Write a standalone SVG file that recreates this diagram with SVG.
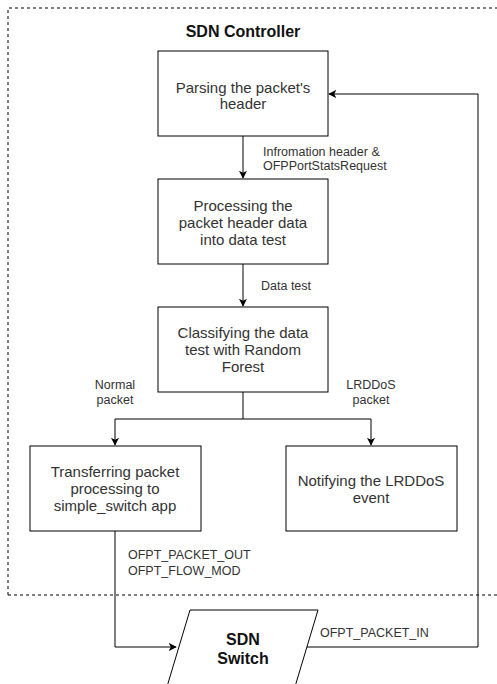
<svg xmlns="http://www.w3.org/2000/svg" width="497" height="684" viewBox="0 0 497 684">
  <style>
    .box { fill: #ffffff; stroke: #000000; stroke-width: 1; }
    .wire { fill: none; stroke: #000000; stroke-width: 1; }
    .frame { fill: none; stroke: #000000; stroke-width: 1; stroke-dasharray: 3 3; }
    .t { font-family: "Liberation Sans", Arial, sans-serif; font-size: 15px; fill: #333333; text-anchor: middle; }
    .lbl { font-family: "Liberation Sans", Arial, sans-serif; font-size: 12.5px; fill: #333333; }
    .mid { text-anchor: middle; }
    .bold { font-family: "Liberation Sans", Arial, sans-serif; font-size: 16px; font-weight: bold; fill: #111111; text-anchor: middle; }
  </style>
  <defs>
    <marker id="arrow" viewBox="0 0 10 10" refX="9" refY="5" markerWidth="8" markerHeight="8" markerUnits="userSpaceOnUse" orient="auto">
      <path d="M0,0 L10,5 L0,10 L2.5,5 z" fill="#000000"/>
    </marker>
  </defs>

  <rect width="497" height="684" fill="#ffffff"/>

  <!-- controller boundary -->
  <g id="controller">
    <path class="frame" d="M8,595 L8,8 L497,8 M8,595 L497,595"/>
    <text class="bold" x="243" y="37">SDN Controller</text>
  </g>

  <!-- connectors -->
  <g id="connectors">
    <path class="wire" d="M243,136 L243,178" marker-end="url(#arrow)"/>
    <path class="wire" d="M243,264 L243,306" marker-end="url(#arrow)"/>
    <path class="wire" d="M243,392 L243,419 M115,419 L371,419"/>
    <path class="wire" d="M115,419 L115,445" marker-end="url(#arrow)"/>
    <path class="wire" d="M371,419 L371,445" marker-end="url(#arrow)"/>
    <path class="wire" d="M115,531 L115,647 L176,647" marker-end="url(#arrow)"/>
    <path class="wire" d="M307,647 L478,647 L478,94 L329,94" marker-end="url(#arrow)"/>

    <text class="lbl" x="263" y="156">Infromation header &amp;</text>
    <text class="lbl" x="263" y="170">OFPPortStatsRequest</text>
    <text class="lbl" x="261" y="290">Data test</text>
    <text class="lbl mid" x="115" y="389">Normal</text>
    <text class="lbl mid" x="115" y="404">packet</text>
    <text class="lbl mid" x="371" y="389">LRDDoS</text>
    <text class="lbl mid" x="371" y="404">packet</text>
    <text class="lbl" x="128" y="559">OFPT_PACKET_OUT</text>
    <text class="lbl" x="128" y="575">OFPT_FLOW_MOD</text>
    <text class="lbl" x="320" y="637">OFPT_PACKET_IN</text>
  </g>

  <g id="parse">
    <rect class="box" x="158" y="51" width="170" height="85"/>
    <text class="t" x="243" y="93">Parsing the packet's</text>
    <text class="t" x="243" y="109">header</text>
  </g>

  <g id="process">
    <rect class="box" x="158" y="179" width="170" height="85"/>
    <text class="t" x="243" y="211">Processing the</text>
    <text class="t" x="243" y="228">packet header data</text>
    <text class="t" x="243" y="245">into data test</text>
  </g>

  <g id="classify">
    <rect class="box" x="158" y="307" width="170" height="85"/>
    <text class="t" x="243" y="338">Classifying the data</text>
    <text class="t" x="243" y="355">test with Random</text>
    <text class="t" x="243" y="372">Forest</text>
  </g>

  <g id="transfer">
    <rect class="box" x="30" y="446" width="171" height="85"/>
    <text class="t" x="115" y="477">Transferring packet</text>
    <text class="t" x="115" y="494">processing to</text>
    <text class="t" x="115" y="511">simple_switch app</text>
  </g>

  <g id="notify">
    <rect class="box" x="286" y="446" width="171" height="85"/>
    <text class="t" x="371" y="486">Notifying the LRDDoS</text>
    <text class="t" x="371" y="503">event</text>
  </g>

  <g id="switch">
    <path class="box" d="M190,610 L318,610 L294,690 L166,690 Z"/>
    <text class="bold" x="243" y="645">SDN</text>
    <text class="bold" x="243" y="664">Switch</text>
  </g>
</svg>
